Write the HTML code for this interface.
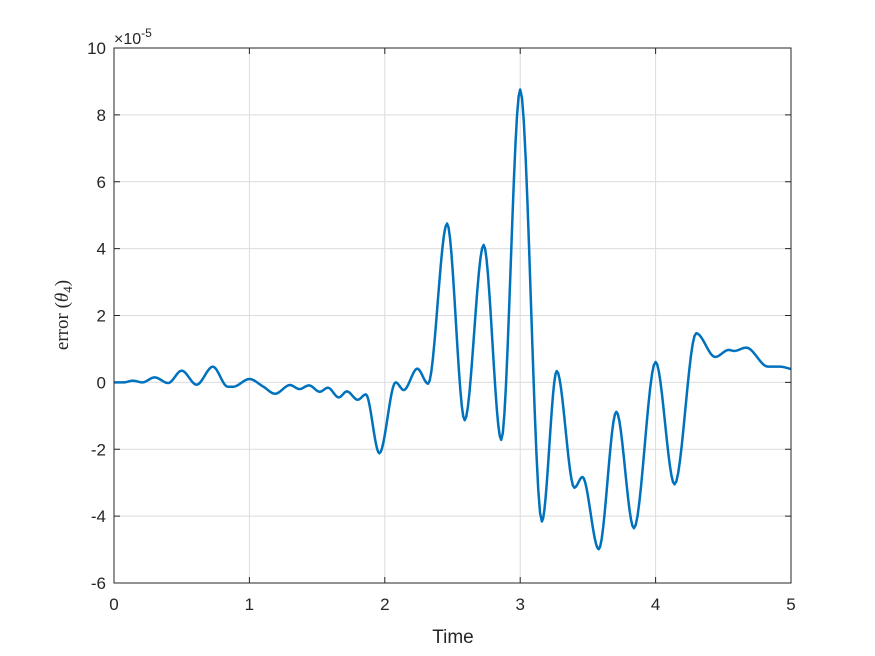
<!DOCTYPE html>
<html><head><meta charset="utf-8"><style>
body{margin:0;background:#fff}
svg{display:block}
text{font-family:"Liberation Sans",sans-serif;fill:#262626}
</style></head><body>
<svg id="chart" width="875" height="656" xmlns="http://www.w3.org/2000/svg">
<rect x="0" y="0" width="875" height="656" fill="#fff"/>
<rect x="114" y="48" width="677" height="535" fill="#fff"/>
<g id="grid"></g>
<g id="ticks"></g>
<path id="line" fill="none" stroke="#0072BD" stroke-width="2.5" stroke-linejoin="round"/>
<rect x="114" y="48" width="677" height="535" fill="none" stroke="#262626" stroke-width="1"/>
<text x="114" y="44" font-size="16">×10<tspan font-size="12" dy="-7">-5</tspan></text>
<text x="453" y="643" font-size="19" text-anchor="middle">Time</text>
<text transform="translate(68,315) rotate(-90)" font-size="19" text-anchor="middle" style="font-family:'Liberation Serif',serif">error (<tspan font-style="italic">θ</tspan><tspan font-size="13" dy="4">4</tspan><tspan dy="-4">)</tspan></text>
</svg>
<script>
const xTicks=[0,1,2,3,4,5];
const yTicks=[-6,-4,-2,0,2,4,6,8,10];
const times=[0,0.07,0.14,0.21,0.30,0.40,0.50,0.61,0.73,0.84,0.88,1.00,1.10,1.19,1.30,1.37,1.44,1.52,1.58,1.66,1.72,1.80,1.86,1.96,2.08,2.14,2.24,2.32,2.46,2.59,2.73,2.86,3.00,3.16,3.27,3.40,3.46,3.58,3.71,3.84,4.00,4.14,4.30,4.44,4.54,4.58,4.67,4.83,4.92,5.00];
const errors=[0,0,0.05,0,0.15,-0.02,0.35,-0.07,0.47,-0.13,-0.13,0.1,-0.12,-0.34,-0.08,-0.2,-0.09,-0.28,-0.16,-0.45,-0.27,-0.52,-0.36,-2.12,0,-0.23,0.41,-0.04,4.75,-1.13,4.11,-1.72,8.76,-4.16,0.34,-3.15,-2.83,-4.99,-0.88,-4.36,0.61,-3.05,1.47,0.76,0.97,0.94,1.04,0.47,0.47,0.4];
const X=t=>114+t*677/5;
const Y=v=>583-(v+6)*535/16;
const NS='http://www.w3.org/2000/svg';
const grid=document.getElementById('grid'),ticks=document.getElementById('ticks');
function mk(tag,attrs,parent){const e=document.createElementNS(NS,tag);for(const k in attrs)e.setAttribute(k,attrs[k]);parent.appendChild(e);return e;}
xTicks.forEach(t=>{
  const g=mk('line',{x1:X(t),x2:X(t),y1:48,y2:583,stroke:'#dcdcdc','stroke-width':1},grid);
  
  
  mk('line',{x1:X(t),x2:X(t),y1:583,y2:577,stroke:'#262626'},ticks);
  mk('line',{x1:X(t),x2:X(t),y1:48,y2:54,stroke:'#262626'},ticks);
  const l=mk('text',{x:X(t),y:610,'font-size':17,'text-anchor':'middle'},ticks);
  l.textContent=t;
  
  
});
yTicks.forEach(v=>{
  const g=mk('line',{x1:114,x2:791,y1:Y(v),y2:Y(v),stroke:'#dcdcdc','stroke-width':1},grid);
  
  
  mk('line',{x1:114,x2:120,y1:Y(v),y2:Y(v),stroke:'#262626'},ticks);
  mk('line',{x1:791,x2:785,y1:Y(v),y2:Y(v),stroke:'#262626'},ticks);
  const l=mk('text',{x:106,y:Y(v)+6,'font-size':17,'text-anchor':'end'},ticks);
  l.textContent=v;
  
  
});
const n=times.length,d=[],m=new Array(n).fill(0);
for(let i=0;i<n-1;i++)d.push((errors[i+1]-errors[i])/(times[i+1]-times[i]));
m[0]=d[0];m[n-1]=d[n-2];
for(let i=1;i<n-1;i++){ if(d[i-1]*d[i]<=0)m[i]=0; else { m[i]=2/(1/d[i-1]+1/d[i]); } }
let p='M'+X(times[0])+','+Y(errors[0]);
for(let i=0;i<n-1;i++){
  const h=times[i+1]-times[i];
  for(let s=1;s<=12;s++){
    const u=s/12,u2=u*u,u3=u2*u;
    const v=(2*u3-3*u2+1)*errors[i]+(u3-2*u2+u)*h*m[i]+(-2*u3+3*u2)*errors[i+1]+(u3-u2)*h*m[i+1];
    p+=' L'+X(times[i]+u*h).toFixed(2)+','+Y(v).toFixed(2);
  }
}
document.getElementById('line').setAttribute('d',p);
</script>
</body></html>
